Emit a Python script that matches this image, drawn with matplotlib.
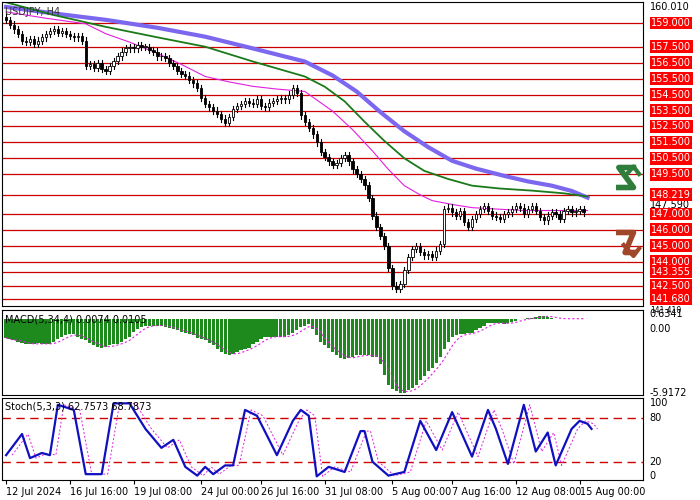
import numpy as np
import matplotlib
matplotlib.use("Agg")
import matplotlib.pyplot as plt

# closes per H4 bar
closes = [159.2,158.9,158.6,158.3,157.9,157.8,158.0,157.7,157.9,158.1,158.3,158.5,158.6,158.4,158.5,158.3,158.2,158.1,158.2,157.9,
          156.3,156.4,156.2,156.5,156.1,156.0,156.3,156.6,156.9,157.2,157.4,157.5,157.4,157.6,157.5,157.5,157.3,157.2,156.9,156.9,
          156.8,156.5,156.3,156.0,155.8,155.7,155.4,155.2,154.9,154.3,153.9,153.7,153.5,153.3,153.0,152.7,153.1,153.6,153.8,153.9,
          154.1,154.0,153.9,154.2,153.8,153.7,154.0,154.1,154.2,154.3,154.2,154.5,154.9,154.6,153.2,152.8,152.4,152.0,151.5,150.9,
          150.6,150.3,150.1,150.2,150.5,150.7,150.3,149.8,149.5,149.2,148.8,148.0,146.9,146.2,145.6,145.0,143.6,142.5,142.3,142.6,
          143.5,144.3,144.8,145.0,144.6,144.4,144.5,144.3,144.7,145.1,147.3,147.4,147.1,146.9,147.2,146.5,146.2,146.7,147.0,147.3,
          147.5,147.2,146.9,146.8,146.7,147.0,147.1,147.3,147.5,147.4,147.0,147.3,147.5,147.2,146.8,146.6,146.9,147.1,147.0,146.7,
          147.2,147.3,147.1,147.2,147.3,147.1]

ma_slow_x = [0, 12, 25, 38, 50, 62, 75, 82, 88, 94, 100, 106, 112, 118, 125, 131, 137, 142, 146]
ma_slow = [160.01, 159.6, 159.2, 158.7, 158.14, 157.4, 156.58, 155.7, 154.7, 153.4, 152.2, 151.2, 150.34, 149.85, 149.4, 149.05, 148.78, 148.45, 148.03]
ma_mid_x = [0, 12, 25, 38, 50, 62, 75, 80, 85, 90, 95, 100, 105, 111, 117, 124, 132, 140, 146]
ma_mid = [160.3, 159.5, 158.76, 158.1, 157.51, 156.58, 155.64, 155.0, 154.08, 152.8, 151.59, 150.5, 149.71, 149.2, 148.78, 148.6, 148.47, 148.3, 148.1]
ma_fast_x = [0, 10, 20, 25, 31, 37, 44, 50, 56, 62, 68, 75, 82, 87, 92, 96, 100, 104, 107, 112, 117, 124, 130, 138, 146]
ma_fast = [159.7, 159.3, 158.95, 158.33, 157.8, 157.2, 156.4, 155.64, 155.3, 155.02, 154.85, 154.7, 153.46, 152.3, 150.96, 149.8, 148.78, 148.2, 147.84, 147.6, 147.4, 147.3, 147.22, 147.22, 147.22]

levels = [159.0, 157.5, 156.5, 155.5, 154.5, 153.5, 152.5, 151.5, 150.5, 149.5, 148.219,
          147.0, 146.0, 145.0, 144.0, 143.355, 142.5, 141.68]
axis_ticks = [160.010, 147.590]

macd_hist = [-1.5,-1.6,-1.7,-1.8,-1.9,-2.0,-2.0,-2.0,-1.9,-2.0,
             -2.0,-2.0,-1.8,-1.6,-1.4,-1.3,-1.2,-1.2,-1.4,-1.6,
             -1.7,-1.9,-2.1,-2.2,-2.3,-2.2,-2.1,-2.0,-2.0,-1.8,
             -1.6,-1.4,-1.0,-0.8,-0.6,-0.5,-0.5,-0.5,-0.5,-0.5,
             -0.6,-0.7,-0.8,-0.9,-1.0,-1.1,-1.2,-1.3,-1.5,-1.6,
             -1.7,-1.9,-2.1,-2.4,-2.6,-2.8,-2.9,-2.8,-2.6,-2.5,
             -2.4,-2.3,-2.0,-1.8,-1.6,-1.4,-1.4,-1.4,-1.4,-1.4,
             -1.4,-1.3,-1.1,-0.9,-0.6,-0.5,-0.4,-0.8,-1.3,-1.8,
             -2.1,-2.3,-2.6,-2.9,-3.1,-3.2,-3.1,-3.0,-2.9,-2.9,
             -2.9,-2.9,-3.0,-3.0,-3.6,-4.5,-5.3,-5.6,-5.8,-5.9,
             -5.9,-5.7,-5.5,-5.3,-4.9,-4.6,-4.2,-3.9,-3.5,-3.0,
             -2.4,-1.8,-1.4,-1.3,-1.2,-1.2,-1.1,-1.1,-0.9,-0.7,
             -0.5,-0.3,-0.3,-0.3,-0.3,-0.4,-0.3,-0.2,-0.1,0.0,
             0.05,0.1,0.1,0.2,0.25,0.3,0.2,0.1,0.05,0.05,
             0.05,0.05,0.05,0.05,0.05,0.05]

stoch_x = [0,4,6,9,11,13,17,20,24,27,31,35,39,42,45,48,50,52,55,57,60,63,68,72,74,76,78,81,85,89,90,92,96,100,104,108,112,117,121,123,126,130,133,136,138,142,144,146,147]
stoch_k = [29,58,25,32,29,98,91,3,3,100,100,65,39,50,13,1,13,3,15,15,91,83,29,76,91,83,0,13,6,62,62,20,1,6,76,36,88,27,91,65,17,98,34,60,15,65,76,72,65]

date_pos = [0, 16, 32, 49, 64, 80, 97, 112, 128, 144]
date_labels = ["12 Jul 2024", "16 Jul 16:00", "19 Jul 08:00", "24 Jul 00:00", "26 Jul 16:00",
               "31 Jul 08:00", "5 Aug 00:00", "7 Aug 16:00", "12 Aug 08:00", "15 Aug 00:00"]

fig = plt.figure(figsize=(7, 5), dpi=100)
ax = fig.add_axes([0.003, 0.388, 0.916, 0.608])
ax2 = fig.add_axes([0.003, 0.21, 0.916, 0.17])
ax3 = fig.add_axes([0.003, 0.04, 0.916, 0.165])
XL = (-1, 160)

# main price panel
opens = [closes[0] + 0.2] + closes[:-1]
for i, (o, c) in enumerate(zip(opens, closes)):
    hi = max(o, c) + 0.2
    lo = min(o, c) - 0.2
    ax.plot([i, i], [lo, hi], color='black', lw=0.8, zorder=3)
    ax.bar(i, max(abs(c - o), 0.03), bottom=min(o, c), width=0.6,
           color='white' if c >= o else 'black', edgecolor='black', lw=0.6, zorder=4)
for lv in levels:
    ax.axhline(lv, color='#cc0000', lw=0.9, zorder=1)
ax.plot(ma_slow_x, ma_slow, color='#7b68ee', lw=3, zorder=2)
ax.plot(ma_mid_x, ma_mid, color='#1a7a1a', lw=1.3, zorder=2)
ax.plot(ma_fast_x, ma_fast, color='#e020e0', lw=0.8, zorder=2)
ax.set_xlim(*XL)
ax.set_ylim(141.22, 160.32)
ax.set_xticks([])
ax.set_yticks([])
ax.text(0.005, 0.985, "USDJPY, H4", transform=ax.transAxes, fontsize=7, va='top', color='#333333')
for t in axis_ticks:
    ax.text(1.01, t, f"{t:.3f}", transform=ax.get_yaxis_transform(), fontsize=7, va='center', ha='left')
ax.text(1.01, 141.2, "141.410", transform=ax.get_yaxis_transform(), fontsize=5.5, va='top', ha='left')
for lv in levels:
    ax.text(1.012, lv, f"{lv:.3f}", transform=ax.get_yaxis_transform(), fontsize=7, va='center', ha='left',
            color='white', bbox=dict(boxstyle='square,pad=0.15', fc='red', ec='none'))

# trend arrows
fig.lines.append(plt.Line2D([0.884, 0.905, 0.884, 0.905], [0.625, 0.625, 0.665, 0.665], color='#2e7d3a', lw=4, transform=fig.transFigure))
fig.lines.append(plt.Line2D([0.893, 0.905, 0.913], [0.648, 0.667, 0.652], color='#2e7d3a', lw=3, transform=fig.transFigure))
fig.lines.append(plt.Line2D([0.884, 0.905, 0.893, 0.905], [0.535, 0.535, 0.495, 0.495], color='#a0472a', lw=4, transform=fig.transFigure))
fig.lines.append(plt.Line2D([0.891, 0.905, 0.913], [0.51, 0.488, 0.503], color='#a0472a', lw=3, transform=fig.transFigure))

# MACD panel
idx = np.arange(len(macd_hist))
hist = np.array(macd_hist)
signal = np.convolve(hist, np.ones(4) / 4, mode='full')[:len(hist)]
signal[:3] = hist[:3]
ax2.bar(idx, hist, width=0.8, color='#1e8a1e')
ax2.plot(idx, signal, color='#e020e0', lw=0.8, ls=(0, (2, 2)))
ax2.set_xlim(*XL)
ax2.set_ylim(-6.1, 0.75)
ax2.set_xticks([])
ax2.set_yticks([])
ax2.text(0.005, 0.95, "MACD(5,34,4) 0.0074 0.0105", transform=ax2.transAxes, fontsize=7, va='top')
for v, s in [(0.45, "0.6341"), (-0.75, "0.00"), (-5.9172, "-5.9172")]:
    ax2.text(1.01, v, s, transform=ax2.get_yaxis_transform(), fontsize=7, va='center')

# Stochastic panel
ax3.axhline(80, color='#cc0000', lw=1, ls=(0, (6, 4)))
ax3.axhline(20, color='#cc0000', lw=1, ls=(0, (6, 4)))
ax3.plot(np.array(stoch_x) + 1.5, stoch_k, color='#e020e0', lw=0.7, ls=(0, (2, 2)))
ax3.plot(stoch_x, stoch_k, color='#1010c0', lw=1.6)
ax3.set_xlim(*XL)
ax3.set_ylim(-5, 108)
ax3.set_yticks([])
ax3.set_xticks(date_pos)
ax3.set_xticklabels(date_labels, fontsize=7, ha='left')
ax3.tick_params(axis='x', length=3, pad=2)
ax3.text(0.005, 0.95, "Stoch(5,3,3) 62.7573 68.7873", transform=ax3.transAxes, fontsize=7, va='top')
for v in [100, 80, 20, 0]:
    ax3.text(1.01, v, str(v), transform=ax3.get_yaxis_transform(), fontsize=7, va='center')

fig.savefig("out.png", dpi=100)
